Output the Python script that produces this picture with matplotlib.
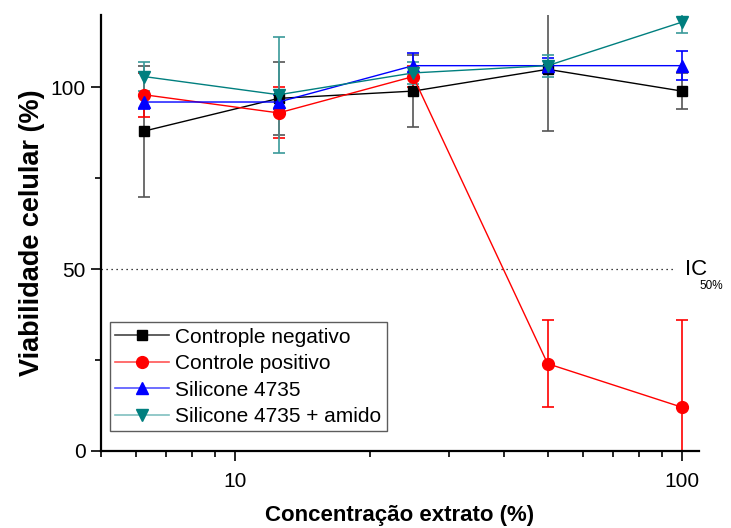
import matplotlib
matplotlib.use("Agg")
import matplotlib.pyplot as plt
from matplotlib.ticker import FixedLocator, NullFormatter
from matplotlib.lines import Line2D

plt.rcParams['font.family'] = ['Liberation Sans', 'DejaVu Sans']

conc = [6.25, 12.5, 25, 50, 100]
neg_vals = [88, 97, 99, 105, 99]
neg_err = [18, 10, 10, 17, 5]
pos_vals = [98, 93, 103, 24, 12]
pos_err = [6, 7, 3, 12, 24]
sil_vals = [96, 96, 106, 106, 106]
sil_err = [2, 2, 3.5, 2, 4]
silam_vals = [103, 98, 104, 106, 118]
silam_err = [4, 16, 3, 3, 3]

labels = ["Controple negativo", "Controle positivo", "Silicone 4735", "Silicone 4735 + amido"]

fig = plt.figure(figsize=(7.31, 5.28), dpi=100)
ax = fig.add_axes([0.138, 0.146, 0.818, 0.826])

series = [
    (neg_vals, neg_err, 'black', '#555555', '#444444', 's', 7.5),
    (pos_vals, pos_err, 'red', 'red', '#ff5555', 'o', 8.5),
    (sil_vals, sil_err, 'blue', 'blue', '#5555ff', '^', 9),
    (silam_vals, silam_err, '#007f7f', '#3a9a9a', '#80c0c0', 'v', 9),
]
handles = []
for (v, e, c, ec, lc, m, ms), lab in zip(series, labels):
    ax.errorbar(conc, v, yerr=e, color=c, ecolor=ec, elinewidth=1.2, capsize=4.5,
                capthick=1.2, marker=m, markersize=ms, lw=1.0)
    handles.append(Line2D([], [], color=lc, lw=1.2, marker=m, markersize=ms,
                          markerfacecolor=c, markeredgecolor=c, label=lab))

ax.hlines(50, 5.0, 97, colors='black', linestyles=(0, (1, 3)), lw=0.9)
ax.text(101.5, 50, "IC", fontsize=16, va='center', ha='left')
ax.text(109.3, 45.5, "50%", fontsize=8.5, va='center', ha='left')

ax.set_xscale('log')
ax.set_xlim(5.0, 109)
ax.set_ylim(0, 120)
ax.set_yticks([0, 50, 100])
ax.yaxis.set_minor_locator(FixedLocator([25, 75]))
ax.set_xticks([10, 100])
ax.set_xticklabels(['10', '100'])
ax.xaxis.set_minor_formatter(NullFormatter())

for s in ['top', 'right']:
    ax.spines[s].set_visible(False)
for s in ['left', 'bottom']:
    ax.spines[s].set_linewidth(1.6)

ax.tick_params(axis='both', which='major', direction='out', length=7, width=1.2, labelsize=15)
ax.tick_params(axis='both', which='minor', direction='out', length=4, width=1.2)
ax.tick_params(axis='x', pad=8)
ax.tick_params(axis='y', pad=4)

ax.set_xlabel("Concentração extrato (%)", fontsize=16, fontweight='bold', labelpad=10)
ax.set_ylabel("Viabilidade celular (%)", fontsize=19.5, fontweight='bold', labelpad=4)

leg = ax.legend(handles=handles, loc='lower left', bbox_to_anchor=(0.015, 0.045), fontsize=15,
                frameon=True, fancybox=False, edgecolor='#333333', handlelength=2.6,
                borderpad=0.25, labelspacing=0.36, handletextpad=0.3, borderaxespad=0)
leg.get_frame().set_linewidth(1.0)

fig.savefig("out.png", dpi=100)
